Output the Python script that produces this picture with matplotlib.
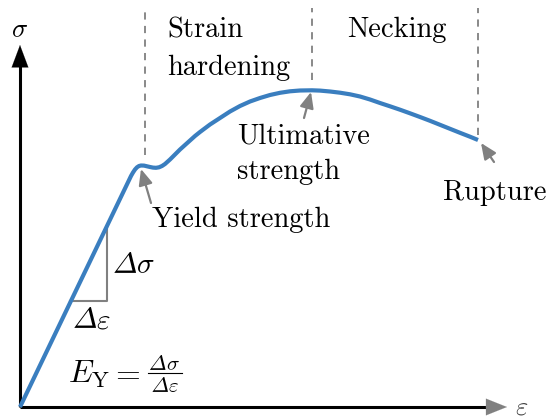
import matplotlib
matplotlib.use("Agg")
import matplotlib.pyplot as plt
from matplotlib.textpath import TextPath
from matplotlib.patches import PathPatch
from matplotlib.transforms import Affine2D

plt.rcParams["font.family"] = "cmr10"
plt.rcParams["mathtext.fontset"] = "cm"
plt.rcParams["axes.unicode_minus"] = False

# stress-strain curve (arbitrary units)
strain = [0, 111, 113, 115, 117, 119, 121, 124, 127, 130, 133, 136, 139, 142,
          145, 150, 155, 160, 165, 170, 175, 180, 190, 200, 210, 220, 230, 240,
          250, 260, 270, 280, 292, 300, 310, 320, 330, 340, 350, 360, 370, 380,
          390, 400, 410, 420, 430, 440, 450, 458]
stress = [0, 231, 234.5, 237.5, 239.7, 241, 241.5, 241.4, 240.7, 240, 239.4,
          239.2, 239.7, 241, 243, 247.5, 252.5, 257.5, 262, 266.5, 271, 275,
          282.5, 289, 295.5, 301, 305.5, 309, 312, 314.2, 315.7, 316.5, 316.7,
          316.4, 315.5, 314.3, 312.7, 310.5, 307.5, 304, 300.7, 297.3, 293.7,
          290, 286.2, 282.2, 278.2, 274.2, 270.3, 267]

# region boundaries: yield, ultimate strength, rupture
bounds = [125, 292, 458]
bound_tops = [252, 327, 272]

# slope triangle on the elastic part
tri_x = [50, 87, 87]
tri_y = [106, 106, 179]

blue = "#3a7ebf"
gray = "#808080"

fig = plt.figure(figsize=(5.51, 4.19), dpi=100)
ax = fig.add_axes([0, 0, 1, 1])
ax.set_xlim(-20, 531)
ax.set_ylim(-12, 407)
ax.axis("off")


def delta_text(x, y, sym, size):
    # slanted capital Delta (like \mathit{\Delta}) followed by a math symbol;
    # one data unit is one pixel here, size is in points
    px = size * 100 / 72
    path = TextPath((0, 0), r"$\Delta$", size=px)
    w = path.get_extents().x1
    path = Affine2D().skew_deg(14, 0).translate(x, y).transform_path(path)
    ax.add_patch(PathPatch(path, fc="black", ec="none"))
    ax.text(x + w + 0.5, y, "$" + sym + "$", fontsize=size, va="baseline")


# axes with arrows
ax.plot([0, 0], [0, 345], color="black", lw=2.2, solid_capstyle="butt")
ax.annotate("", xy=(0, 362), xytext=(0, 340),
            arrowprops=dict(arrowstyle="-|>,head_length=0.8,head_width=0.3",
                            color="black", lw=0.1, mutation_scale=20,
                            shrinkA=0, shrinkB=0))
ax.plot([0, 470], [0, 0], color="black", lw=2.2, solid_capstyle="butt")
ax.annotate("", xy=(487, 0), xytext=(465, 0),
            arrowprops=dict(arrowstyle="-|>,head_length=0.75,head_width=0.3",
                            color=gray, lw=0.1, mutation_scale=20,
                            shrinkA=0, shrinkB=0))
ax.text(0, 377, r"$\sigma$", fontsize=19, ha="center", va="center")
ax.text(502, -1, r"$\varepsilon$", fontsize=19, ha="center", va="center",
        color="#444444")

# dashed region boundaries
for bx, bt in zip(bounds, bound_tops):
    ax.plot([bx, bx], [bt, 399], color=gray, lw=1.3, ls=(0, (4, 3.5)))

# triangle
ax.plot(tri_x, tri_y, color=gray, lw=1.5)

# curve
ax.plot(strain, stress, color=blue, lw=3, solid_capstyle="butt",
        solid_joinstyle="round")

fs = 20.5
ax.text(147, 370, "Strain", fontsize=fs, va="baseline")
ax.text(147, 332, "hardening", fontsize=fs, va="baseline")
ax.text(327, 370, "Necking", fontsize=fs, va="baseline")
ax.text(217, 263, "Ultimative", fontsize=fs, va="baseline")
ax.text(217, 228, "strength", fontsize=fs, va="baseline")
ax.text(132, 180, "Yield strength", fontsize=fs, va="baseline")
ax.text(423, 207, "Rupture", fontsize=fs, va="baseline")

delta_text(93, 134, r"\sigma", 21)
delta_text(53, 79, r"\varepsilon", 21)

# Young's modulus E_Y = dsigma / deps
ax.text(48, 24, r"$E_\mathrm{Y}$", fontsize=23, va="baseline")
ax.text(108, 24, "=", fontsize=23, va="baseline", ha="center")
ax.plot([128, 162], [33.7, 33.7], color="black", lw=0.8)
delta_text(129, 37, r"\sigma", 15)
delta_text(131.5, 15, r"\varepsilon", 15)

# annotation arrows
arrows = [((121, 238), (131, 204)), ((291, 315), (284, 289)), ((461, 264), (474, 245))]
for tip, tail in arrows:
    ax.annotate("", xy=tip, xytext=tail,
                arrowprops=dict(arrowstyle="-|>,head_length=0.8,head_width=0.35",
                                color=gray, lw=1.6, mutation_scale=12,
                                shrinkA=0, shrinkB=0))

fig.savefig("out.png", dpi=100)
